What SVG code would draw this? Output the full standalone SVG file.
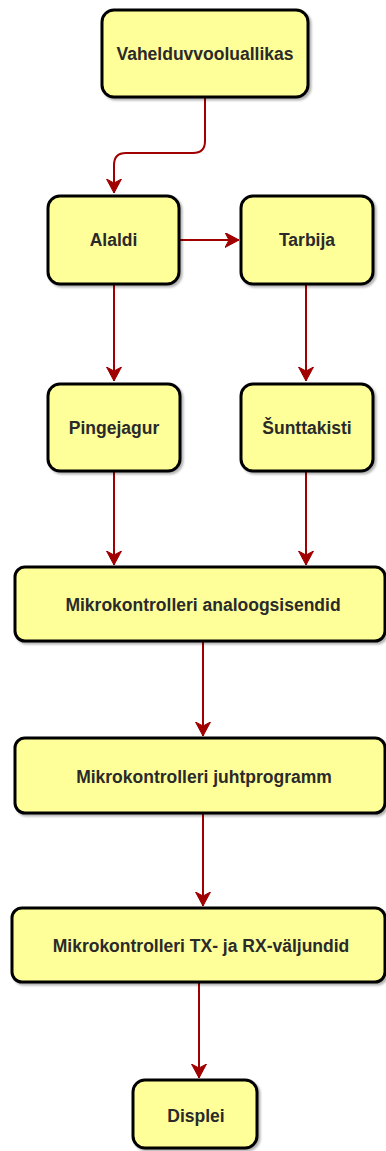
<svg xmlns="http://www.w3.org/2000/svg" width="386" height="1151" viewBox="0 0 386 1151">
  <defs>
    <filter id="sh" x="-10%" y="-10%" width="130%" height="130%">
      <feDropShadow dx="2" dy="2" stdDeviation="1.2" flood-color="#000" flood-opacity="0.3"/>
    </filter>
    <marker id="arr" markerUnits="userSpaceOnUse" markerWidth="17" markerHeight="17" refX="14" refY="7.5" orient="auto">
      <path d="M0,0 L14,7.5 L0,15 L4,7.5 Z" fill="#a00000" stroke="#a00000" stroke-width="1" stroke-linejoin="miter"/>
    </marker>
    <style>
      .box { fill: #ffff99; stroke: #000; stroke-width: 3; filter: url(#sh); }
      .lbl { font-family: "Liberation Sans", Arial, sans-serif; font-size: 17.5px; font-weight: bold; fill: #2a2a2a; text-anchor: middle; dominant-baseline: central; }
      .con { fill: none; stroke: #a00000; stroke-width: 2; marker-end: url(#arr); }
    </style>
  </defs>

  <g id="connectors">
    <path class="con" d="M205,97 L205,141 Q205,153 193,153 L126,153 Q114,153 114,165 L114,193"/>
    <path class="con" d="M179,240 L239,240"/>
    <path class="con" d="M114,284 L114,381"/>
    <path class="con" d="M306,284 L306,381"/>
    <path class="con" d="M114,471 L114,565"/>
    <path class="con" d="M306,471 L306,565"/>
    <path class="con" d="M203,641 L203,736"/>
    <path class="con" d="M203,813 L203,906"/>
    <path class="con" d="M199,982 L199,1078"/>
  </g>

  <g id="n1">
    <rect class="box" x="102" y="10" width="206" height="87" rx="12"/>
    <text class="lbl" x="205" y="54">Vahelduvvooluallikas</text>
  </g>
  <g id="n2">
    <rect class="box" x="48" y="196" width="131" height="88" rx="12"/>
    <text class="lbl" x="113.5" y="240">Alaldi</text>
  </g>
  <g id="n3">
    <rect class="box" x="241" y="196" width="132" height="88" rx="12"/>
    <text class="lbl" x="307" y="240">Tarbija</text>
  </g>
  <g id="n4">
    <rect class="box" x="48" y="384" width="132" height="87" rx="12"/>
    <text class="lbl" x="114" y="428">Pingejagur</text>
  </g>
  <g id="n5">
    <rect class="box" x="241" y="384" width="132" height="87" rx="12"/>
    <text class="lbl" x="307" y="428">Šunttakisti</text>
  </g>
  <g id="n6">
    <rect class="box" x="15" y="567" width="370" height="74" rx="10"/>
    <text class="lbl" x="203" y="605">Mikrokontrolleri analoogsisendid</text>
  </g>
  <g id="n7">
    <rect class="box" x="15" y="738" width="370" height="75" rx="10"/>
    <text class="lbl" x="204" y="777">Mikrokontrolleri juhtprogramm</text>
  </g>
  <g id="n8">
    <rect class="box" x="12" y="908" width="373" height="74" rx="10"/>
    <text class="lbl" x="201" y="946">Mikrokontrolleri TX- ja RX-väljundid</text>
  </g>
  <g id="n9">
    <rect class="box" x="133" y="1080" width="124" height="68" rx="12"/>
    <text class="lbl" x="196" y="1116">Displei</text>
  </g>
</svg>
